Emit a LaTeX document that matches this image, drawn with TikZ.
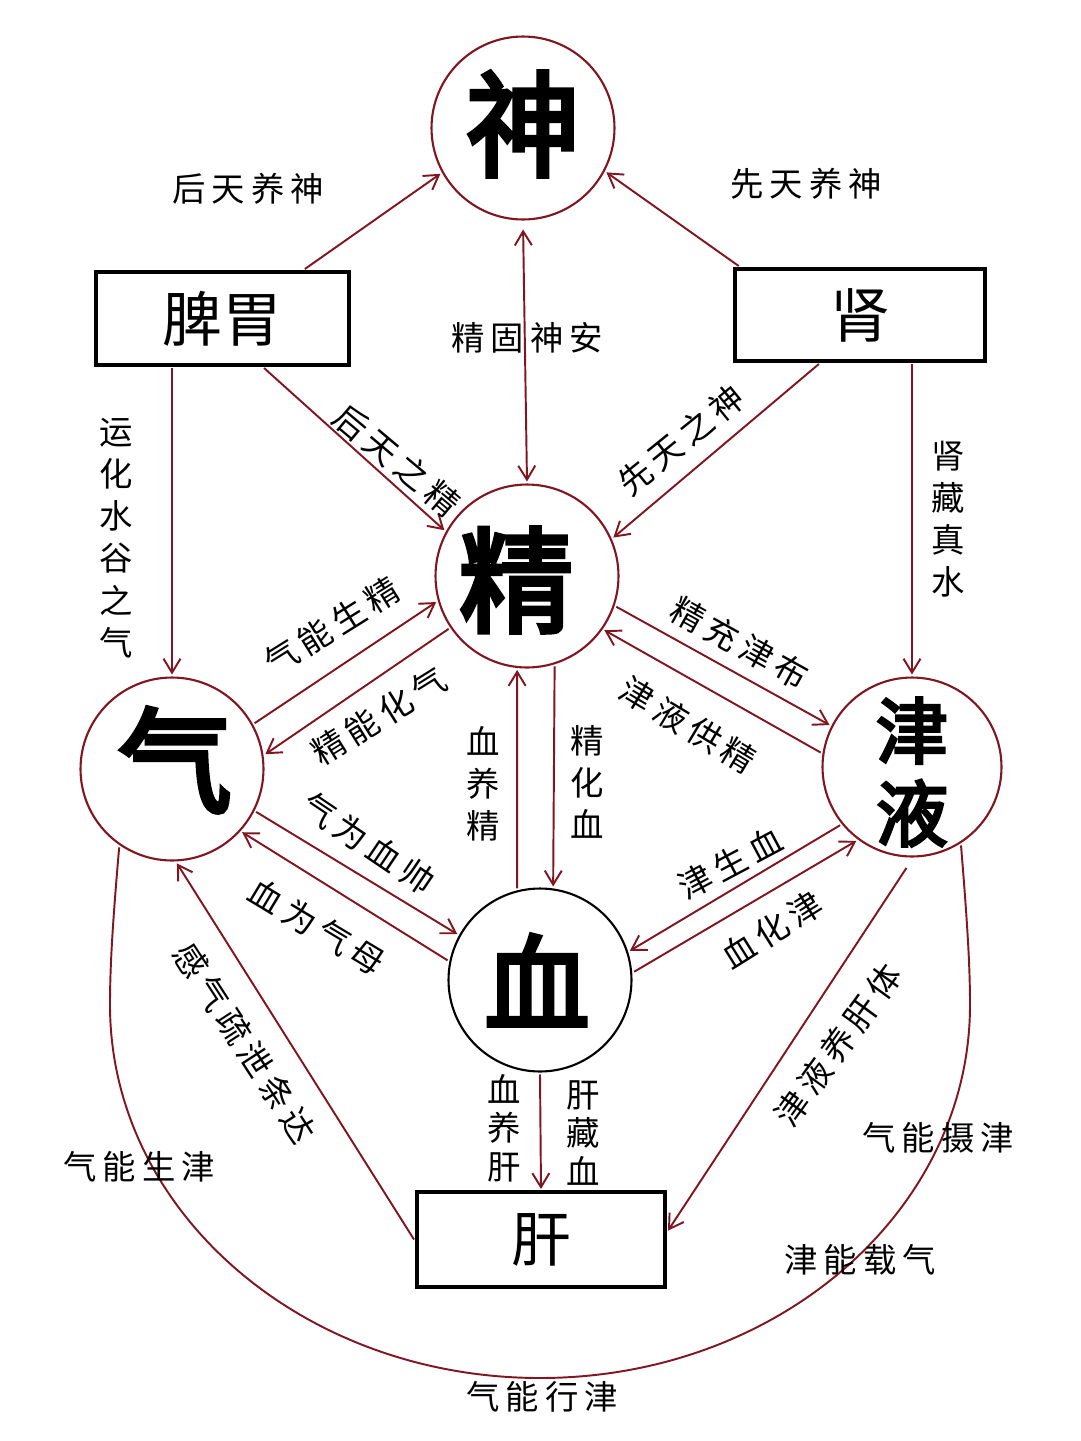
\documentclass[tikz,border=0pt]{standalone}
\usepackage{fontspec}
\usetikzlibrary{arrows.meta}
\newfontfamily\cjk[LetterSpace=18]{Noto Sans CJK SC}
\newfontfamily\cjkv{Noto Sans CJK SC}
\newfontfamily\cjkbig[FakeBold=4]{Noto Sans CJK SC}
\definecolor{dred}{RGB}{128,22,32}
\begin{document}
\begin{tikzpicture}[x=0.02cm,y=-0.02cm,
 cir/.style={circle,draw=dred,line width=1.2pt,minimum size=3.66cm,inner sep=0pt,outer sep=0.06cm},
 box/.style={rectangle,draw=black,line width=2pt,inner sep=0pt,outer sep=0.06cm,font=\cjkv\fontsize{34}{36}\selectfont},
 arr/.style={draw=dred,line width=1.1pt,-{Straight Barb[length=0.28cm,width=0.34cm]}},
 curveline/.style={draw=dred,line width=1.1pt},
 lab/.style={inner sep=0pt,font=\cjk\fontsize{19}{22}\selectfont},
 vlab/.style={inner sep=0pt,align=center,font=\cjkv\fontsize{19}{24}\selectfont},
 big/.style={inner sep=0pt,font=\cjkbig\fontsize{65}{70}\selectfont}]
\useasboundingbox (0,0) rectangle (1080,1441);
\fill[white] (0,0) rectangle (1080,1441);

% circles
\node[cir] (S) at (523,128) {};
\node[cir] (J) at (527,576) {};
\node[cir] (Q) at (172,769) {};
\node[cir,minimum size=3.58cm] (Y) at (912,767) {};
\node[cir,draw=black] (X) at (540,980) {};
% boxes
\node[box,minimum width=5.06cm,minimum height=1.86cm] (P) at (222.5,318.5) {脾胃};
\node[box,minimum width=5.0cm,minimum height=1.84cm] (K) at (860,315) {肾};
\node[box,minimum width=4.96cm,minimum height=1.9cm] (G) at (541,1239.5) {肝};

% big characters
\node[big] (tS) at (523,124) {神};
\node[big] (tJ) at (516,580) {精};
\node[big] (tQ) at (175,760) {气};
\node[big,font=\cjkbig\fontsize{41}{47}\selectfont,align=center] (tY) at (912,772) {津\\液};
\node[big,font=\cjkbig\fontsize{60}{66}\selectfont] (tX) at (537,980) {血};

% arrows
\draw[arr] (P.31) -- (S.209);
\draw[arr] (K.158) -- (S.-28);
\draw[draw=dred,line width=1.1pt,{Straight Barb[length=0.28cm,width=0.34cm]}-{Straight Barb[length=0.28cm,width=0.34cm]},shorten <=0.14cm] (S.south) -- (J.north);
\draw[arr] (P.-50) -- (J.151);
\draw[arr] (K.230) -- (J.24);
\draw[arr] (P.223 -| Q.north) -- (Q.north);
\draw[arr] (K.-41 -| Y.north) -- (Y.north);
\draw[arr] (Q.29) -- (J.196);
\draw[arr] (J.214) -- (Q.9);
\draw[arr] (Q.-27) -- (X.151);
\draw[arr] (X.168) -- (Q.-42);
\draw[arr] (X.104) -- (J.264);
\draw[arr] (J.-73) -- (X.82);
\draw[arr] (J.-19) -- (Y.153);
\draw[arr] (Y.171) -- (J.-35);
\draw[arr] (Y.219) -- (X.18);
\draw[arr] (X.5) -- (Y.233);
\draw[arr] (G.west) -- (Q.-87);
\draw[arr,shorten <=0.2cm] (Y.south) -- (G.4);
\draw[arr] (X.south) -- (G.north);
\draw[curveline] (Q.236) .. controls (112,930) and (110,970) .. (110,1005)
  .. controls (110,1211) and (302,1378) .. (540,1378)
  .. controls (778,1378) and (970,1211) .. (970,1005)
  .. controls (970,970) and (968,930) .. (Y.-58);

% labels
\node[lab] (l1) at (248,189) {后天养神};
\node[lab] (l2) at (806,184) {先天养神};
\node[lab] (l3) at (527,338) {精固神安};
\node[lab,rotate=-40] (l4) at (397,460) {后天之精};
\node[lab,rotate=39] (l5) at (681,440) {先天之神};
\node[vlab] (l6) at (116,538) {运\\化\\水\\谷\\之\\气};
\node[vlab] (l7) at (948,519) {肾\\藏\\真\\水};
\node[lab,rotate=32] (l8) at (332,626) {气能生精};
\node[lab,rotate=32] (l9) at (379,716) {精能化气};
\node[lab,rotate=-34] (l10) at (368,843) {气为血帅};
\node[lab,rotate=-31] (l11) at (317,927) {血为气母};
\node[vlab] (l12) at (483,784) {血\\养\\精};
\node[vlab] (l13) at (587,782) {精\\化\\血};
\node[lab,rotate=-29] (l14) at (740,643) {精充津布};
\node[lab,rotate=-31] (l15) at (688,725) {津液供精};
\node[lab,rotate=28] (l16) at (730,863) {津生血};
\node[lab,rotate=32] (l17) at (772,930) {血化津};
\node[lab,rotate=-57] (l18) at (245,1043) {感气疏泄条达};
\node[lab,rotate=54] (l19) at (838,1045) {津液养肝体};
\node[vlab,font=\cjkv\fontsize{19}{22}\selectfont] (l20) at (504,1128) {血\\养\\肝};
\node[vlab,font=\cjkv\fontsize{19}{22}\selectfont] (l21) at (583,1133) {肝\\藏\\血};
\node[lab] (l22) at (139,1167) {气能生津};
\node[lab] (l23) at (938,1138) {气能摄津};
\node[lab] (l24) at (860,1260) {津能载气};
\node[lab] (l25) at (542,1397) {气能行津};
\end{tikzpicture}
\end{document}
